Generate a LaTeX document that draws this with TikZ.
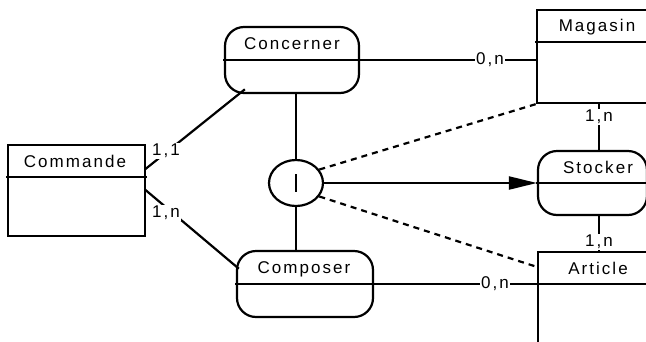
\documentclass[tikz,border=0pt]{standalone}
\usepackage{fontspec}
\setmainfont[LetterSpace=12]{Liberation Sans}
\usetikzlibrary{arrows.meta,shapes.geometric}
\begin{document}
\begin{tikzpicture}[x=1pt,y=-1pt,
  ln/.style={line width=2.2pt,line cap=rect},
  entity/.style={draw,line width=2.2pt,rectangle,inner sep=0pt},
  relation/.style={draw,line width=2.2pt,rectangle,rounded corners=19pt,inner sep=0pt},
  title/.style={inner sep=0pt,font=\fontsize{17}{17}\selectfont},
  card/.style={fill=white,inner sep=1pt,font=\fontsize{17}{17}\selectfont},
  dsh/.style={line width=2.2pt,dash pattern=on 6pt off 5pt}]
\useasboundingbox (0,0) rectangle (646,341);
\clip (0,0) rectangle (646,341);
\fill[white] (0,0) rectangle (646,341);
% entities
\node[entity,minimum width=137pt,minimum height=91pt] (commande) at (76.5,190.5) {};
\draw[ln] (commande.west |- 0,177) -- (commande.east |- 0,177);
\node[title] (tcommande) at (75,161) {Commande};
\node[entity,minimum width=170pt,minimum height=93pt] (magasin) at (622,56.5) {};
\draw[ln] (magasin.west |- 0,42) -- (magasin.east |- 0,42);
\node[title] (tmagasin) at (597,27) {Magasin};
\node[entity,minimum width=170pt,minimum height=160pt] (article) at (623,332) {};
\draw[ln] (article.west |- 0,284) -- (article.east |- 0,284);
\node[title] (tarticle) at (598,268) {Article};
% relations
\node[relation,minimum width=134pt,minimum height=66pt] (concerner) at (292,60) {};
\draw[ln] (concerner.west) -- (concerner.east);
\node[title] (tconcerner) at (292,44) {Concerner};
\node[relation,minimum width=136pt,minimum height=66pt] (composer) at (305,284) {};
\draw[ln] (composer.west) -- (composer.east);
\node[title] (tcomposer) at (304,269) {Composer};
\node[relation,minimum width=109pt,minimum height=64pt] (stocker) at (592.5,183) {};
\draw[ln] (stocker.west) -- (stocker.east);
\node[title] (tstocker) at (598,167) {Stocker};
% constraint
\node[draw,line width=2.2pt,ellipse,minimum width=54pt,minimum height=46pt,inner sep=0pt] (ci) at (296,183) {};
\draw[line width=2.2pt] ([yshift=9pt]ci.center) -- ([yshift=-9pt]ci.center);
% connectors
\coordinate (cc) at (244,90);
\coordinate (cp) at (238,268);
\draw[ln] ([yshift=22pt]commande.east) -- (cc);
\node[card] (l11) at (166,151) {1,1};
\draw[ln] ([yshift=0pt]commande.east) -- (cp);
\node[card] (l1n) at (166,213) {1,n};
\draw[ln] (concerner.east) -- (concerner.east -| magasin.west);
\node[card] (l0n1) at (490,60) {0,n};
\draw[ln] (composer.east) -- (composer.east -| article.west);
\node[card] (l0n2) at (495,284) {0,n};
\draw[ln] (ci.north |- concerner.south) -- (ci.north);
\draw[ln] (ci.south) -- (ci.south |- composer.north);
\draw[line width=2.2pt,-{Triangle[length=28pt,width=13pt]}] (ci.east) -- (ci.east -| stocker.west);
\draw[dsh] (ci.30) -- (magasin.south west);
\draw[dsh] (ci.-30) -- ([yshift=-16pt]article.north west);
\coordinate (vx) at (599,0);
\draw[ln] (vx |- magasin.south) -- (vx |- stocker.north);
\node[card] (l1n2) at (599,117) {1,n};
\draw[ln] (vx |- stocker.south) -- (vx |- article.north);
\node[card] (l1n3) at (599,242) {1,n};
\end{tikzpicture}
\end{document}
